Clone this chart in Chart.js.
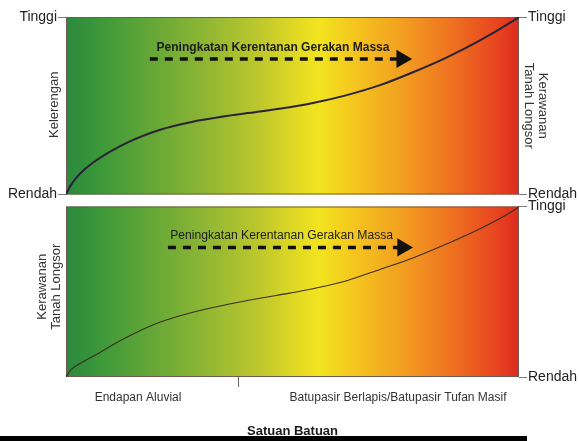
<!DOCTYPE html>
<html>
<head>
<meta charset="utf-8">
<script src="https://cdn.jsdelivr.net/npm/chart.js@4.4.1/dist/chart.umd.min.js"></script>
<style>
  html, body { margin: 0; padding: 0; background: #fff; }
  #wrap { position: relative; width: 579px; height: 441px; overflow: hidden; }
  #topChart { position: absolute; left: 0; top: 0; }
  #bottomChart { position: absolute; left: 0; top: 196px; }
  #rule { position: absolute; left: 0; top: 436px; width: 527px; height: 5px; background: #000; }
</style>
</head>
<body>
<div id="wrap">
  <canvas id="topChart" width="579" height="205"></canvas>
  <canvas id="bottomChart" width="579" height="245"></canvas>
  <div id="rule"></div>
</div>
<script>
// Curves (x: rock units left->right, y: Rendah 0 .. Tinggi 100)
const slopeX = [0, 1, 3, 6, 13.5, 20.8, 28, 35.5, 42.8, 49.4, 54.5, 62, 69.3, 76.6, 84.1, 91.4, 98.7, 100];
const slopeY = [0, 5, 11.5, 18, 29.2, 36.5, 41, 44.2, 46.8, 49.2, 51.5, 56, 61.6, 68.9, 77.3, 86.8, 97.8, 100];
const hazardX = [0, 1, 3, 6, 13.5, 20.8, 28, 35.5, 42.8, 49.4, 54.5, 62, 69.3, 76.6, 84.1, 91.4, 98.7, 100];
const hazardY = [0, 4, 7.8, 12.2, 23.4, 32.2, 38, 42.5, 46.2, 49.2, 51.8, 56.5, 63.1, 69.8, 78.1, 86.9, 97.5, 100];

// Level ticks
const levelValues = [0, 100];
const levelLabels = ["Rendah", "Tinggi"];

// Rock unit axis
const unitValues = [15.9, 38, 73.3];
const unitLabels = ["Endapan Aluvial", "", "Batupasir Berlapis/Batupasir Tufan Masif"];
const unitDivider = 38;

// Trend arrows
const arrowText = "Peningkatan Kerentanan Gerakan Massa";
const topArrowX = [18.5, 74.1];
const topArrowY = [76.4, 76.4];
const bottomArrowX = [22.5, 74.3];
const bottomArrowY = [76, 76];

const toPoints = (xs, ys) => xs.map((x, i) => ({ x: x, y: ys[i] }));

// Background gradient, frame, rotated titles and arrow caption
const panelDecor = {
    id: "panelDecor",
    beforeDatasetsDraw(chart) {
        const { ctx, chartArea: a } = chart;
        const g = ctx.createLinearGradient(a.left, 0, a.right, 0);
        g.addColorStop(0, "#2a893d");
        g.addColorStop(0.08, "#3e9939");
        g.addColorStop(0.3, "#8cb534");
        g.addColorStop(0.43, "#bfc82c");
        g.addColorStop(0.52, "#e6dc22");
        g.addColorStop(0.56, "#f2e41e");
        g.addColorStop(0.64, "#f4c41e");
        g.addColorStop(0.75, "#f29c20");
        g.addColorStop(0.86, "#ee6e20");
        g.addColorStop(0.96, "#e6401f");
        g.addColorStop(1, "#dc2a1e");
        ctx.save();
        ctx.fillStyle = g;
        ctx.fillRect(a.left, a.top, a.width, a.height);
        ctx.strokeStyle = "#6e5c50";
        ctx.lineWidth = 1;
        ctx.strokeRect(a.left + 0.5, a.top + 0.5, a.width - 1, a.height - 1);
        ctx.restore();
    },
    afterDraw(chart, args, opts) {
        const { ctx, chartArea: a, scales } = chart;
        ctx.save();
        ctx.fillStyle = "#333";
        ctx.font = "13px 'Liberation Sans', Arial, sans-serif";
        ctx.textAlign = "center";
        ctx.textBaseline = "middle";
        const midY = (a.top + a.bottom) / 2;
        if (opts.left) {
            ctx.save();
            ctx.translate(opts.left.x, midY + opts.left.dy);
            ctx.rotate(-Math.PI / 2);
            opts.left.lines.forEach((t, i) => {
                ctx.fillText(t, 0, (i - (opts.left.lines.length - 1) / 2) * 14);
            });
            ctx.restore();
        }
        if (opts.right) {
            ctx.save();
            ctx.translate(opts.right.x, midY + opts.right.dy);
            ctx.rotate(Math.PI / 2);
            opts.right.lines.forEach((t, i) => {
                ctx.fillText(t, 0, (i - (opts.right.lines.length - 1) / 2) * 14);
            });
            ctx.restore();
        }
        // arrow caption
        const cx = scales.x.getPixelForValue(opts.caption.x);
        const cy = scales.y.getPixelForValue(opts.caption.y);
        ctx.fillStyle = "#1c1c1c";
        ctx.font = (opts.caption.bold ? "bold " : "") + "12.5px 'Liberation Sans', Arial, sans-serif";
        ctx.fillText(arrowText, cx, cy, opts.caption.width);
        ctx.restore();
    }
};

const levelAxis = (position, show) => ({
    type: "linear",
    position: position,
    min: 0,
    max: 100,
    display: show,
    afterBuildTicks: (scale) => { scale.ticks = levelValues.map(v => ({ value: v })); },
    afterFit: (scale) => { scale.width = position === "left" ? 66 : 60; },
    ticks: {
        padding: 1,
        color: "#222",
        font: { family: "'Liberation Sans', Arial, sans-serif", size: 14 },
        callback: (v) => levelLabels[levelValues.indexOf(v)]
    },
    grid: { drawOnChartArea: false, tickLength: 8, color: "#7a7a7a" },
    border: { display: false }
});

const arrowDataset = (xs, ys, axisId) => ({
    data: toPoints(xs, ys),
    yAxisID: axisId,
    borderColor: "#111",
    borderWidth: 3.5,
    borderDash: [8, 7],
    tension: 0,
    pointStyle: "triangle",
    rotation: 90,
    pointRadius: [0, 10.5],
    pointBackgroundColor: "#111",
    pointBorderWidth: 0
});

const baseOptions = {
    responsive: false,
    animation: false,
    events: [],
    plugins: { legend: { display: false }, tooltip: { enabled: false } }
};

// Top panel: Kelerengan
new Chart(document.getElementById("topChart").getContext("2d"), {
    type: "line",
    data: {
        datasets: [
            {
                data: toPoints(slopeX, slopeY),
                yAxisID: "y",
                borderColor: "#2a2236",
                borderWidth: 2,
                cubicInterpolationMode: "monotone",
                pointRadius: 0
            },
            arrowDataset(topArrowX, topArrowY, "y")
        ]
    },
    options: {
        ...baseOptions,
        layout: { padding: { top: 17, bottom: 10, left: 0, right: 0 } },
        scales: {
            x: { type: "linear", min: 0, max: 100, display: false },
            y: levelAxis("left", true),
            y2: levelAxis("right", true)
        },
        plugins: {
            ...baseOptions.plugins,
            panelDecor: {
                left: { x: 54, dy: -1, lines: ["Kelerengan"] },
                right: { x: 536, dy: 0, lines: ["Kerawanan", "Tanah Longsor"] },
                caption: { x: 45.7, y: 82.6, bold: true, width: 233 }
            }
        }
    },
    plugins: [panelDecor]
});

// Bottom panel: Kerawanan Tanah Longsor vs Satuan Batuan
new Chart(document.getElementById("bottomChart").getContext("2d"), {
    type: "line",
    data: {
        datasets: [
            {
                data: toPoints(hazardX, hazardY),
                yAxisID: "y",
                borderColor: "#3a2e22",
                borderWidth: 1.1,
                cubicInterpolationMode: "monotone",
                pointRadius: 0
            },
            arrowDataset(bottomArrowX, bottomArrowY, "y")
        ]
    },
    options: {
        ...baseOptions,
        layout: { padding: { top: 10, bottom: 0, left: 66, right: 0 } },
        scales: {
            x: {
                type: "linear",
                min: 0,
                max: 100,
                afterBuildTicks: (scale) => { scale.ticks = unitValues.map(v => ({ value: v })); },
                afterFit: (scale) => { scale.height = 64; },
                ticks: {
                    autoSkip: false,
                    maxRotation: 0,
                    padding: 3,
                    color: "#333",
                    font: { family: "'Liberation Sans', Arial, sans-serif", size: 12 },
                    callback: (v) => unitLabels[unitValues.indexOf(v)]
                },
                grid: {
                    drawOnChartArea: false,
                    tickLength: 10,
                    color: (c) => (c.tick && c.tick.value === unitDivider ? "#666" : "rgba(0,0,0,0)")
                },
                border: { display: false },
                title: {
                    display: true,
                    text: "Satuan Batuan",
                    color: "#1a1a1a",
                    font: { family: "'Liberation Sans', Arial, sans-serif", size: 13, weight: "bold" },
                    padding: { top: 0, bottom: 2 }
                }
            },
            y: levelAxis("right", true)
        },
        plugins: {
            ...baseOptions.plugins,
            panelDecor: {
                left: { x: 49, dy: -5, lines: ["Kerawanan", "Tanah Longsor"] },
                caption: { x: 47.6, y: 83, bold: false, width: 223 }
            }
        }
    },
    plugins: [panelDecor]
});
</script>
</body>
</html>
